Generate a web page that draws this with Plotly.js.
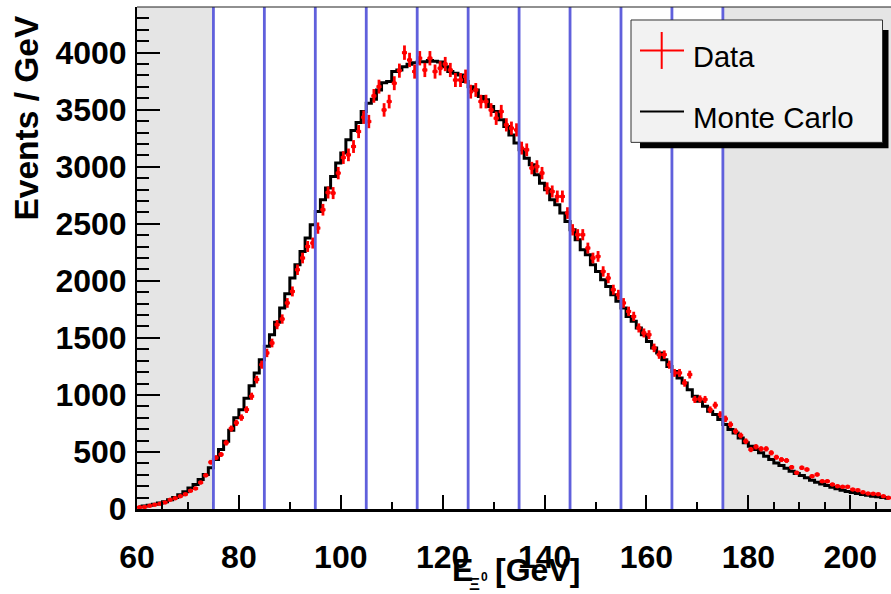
<!DOCTYPE html>
<html>
<head>
<meta charset="utf-8">
<script src="https://cdn.plot.ly/plotly-3.0.1.min.js"></script>
<style>
  html, body { margin: 0; padding: 0; background: #ffffff; }
  #chart { width: 891px; height: 594px; }
</style>
</head>
<body>
<div id="chart"></div>
<script>
// Bin low edges (1 GeV bins from 60 to 207)
const binLow = [60,61,62,63,64,65,66,67,68,69,70,71,72,73,74,75,76,77,78,79,
  80,81,82,83,84,85,86,87,88,89,90,91,92,93,94,95,96,97,98,99,
  100,101,102,103,104,105,106,107,108,109,110,111,112,113,114,115,116,117,118,119,
  120,121,122,123,124,125,126,127,128,129,130,131,132,133,134,135,136,137,138,139,
  140,141,142,143,144,145,146,147,148,149,150,151,152,153,154,155,156,157,158,159,
  160,161,162,163,164,165,166,167,168,169,170,171,172,173,174,175,176,177,178,179,
  180,181,182,183,184,185,186,187,188,189,190,191,192,193,194,195,196,197,198,199,
  200,201,202,203,204,205,206,207];

// Monte Carlo histogram (events / GeV)
const mcValues = [20,26,33,42,52,64,80,100,124,152,183,215,258,302,361,433,521,594,690,800,
  871,970,1081,1192,1309,1426,1528,1636,1762,1887,2024,2141,2257,2375,2491,2608,2710,2813,2914,3032,
  3120,3236,3317,3387,3483,3557,3592,3673,3737,3746,3834,3848,3877,3898,3912,3921,3921,3930,3925,3919,
  3877,3834,3820,3805,3746,3702,3673,3615,3586,3527,3483,3411,3352,3279,3207,3148,3075,3017,2929,2856,
  2798,2710,2666,2594,2520,2447,2360,2272,2229,2141,2082,2010,1951,1878,1820,1762,1688,1645,1587,1528,
  1469,1412,1368,1309,1250,1206,1149,1105,1046,988,944,900,857,828,784,740,696,667,623,580,
  550,521,492,463,433,404,381,357,331,311,293,273,252,235,220,206,191,177,165,153,
  144,136,127,121,112,107,101,95];

// Data (events / GeV)
const dataValues = [15,18,28,38,45,58,80,95,112,130,160,180,232,295,410,450,478,580,705,755,
  801,871,988,1134,1265,1368,1455,1616,1665,1806,1907,2097,2200,2301,2331,2462,2623,2774,2769,2944,
  3080,3104,3177,3308,3434,3396,3621,3702,3498,3571,3732,3842,4000,3936,3834,3951,3848,3951,3834,3863,
  3900,3848,3760,3760,3790,3658,3673,3571,3571,3498,3425,3483,3367,3338,3323,3163,3148,2988,3002,2944,
  2810,2783,2739,2739,2594,2447,2404,2404,2287,2200,2214,2082,2024,1922,1878,1806,1732,1688,1587,1543,
  1528,1412,1353,1353,1265,1193,1193,1105,1178,960,965,960,870,910,828,790,740,681,644,594,
  521,545,527,527,492,454,433,425,366,317,361,346,287,302,243,243,215,200,194,194,
  171,165,147,136,133,130,112,98];

// Signal-window boundaries and shaded side bands
const dividers = [75,85,95,105,115,125,135,145,155,165,175];
const shadedRanges = [[60,75],[175,208]];

const xRange = [60, 208];
const yRange = [0, 4400];

const binCenters = binLow.map(v => v + 0.5);

// layout geometry helpers (pixels -> paper)
const L = 137, T = 7, W = 754, H = 502.5, B = T + H;
const px = x => (x - L) / W;
const py = y => (B - y) / H;

const FONT = 'Liberation Sans, Arial, Helvetica, sans-serif';

const traces = [
  {
    x: binCenters, y: mcValues, type: 'scatter', mode: 'lines',
    line: {color: '#000000', width: 3, shape: 'hvh'},
    name: 'Monte Carlo', hoverinfo: 'skip'
  },
  {
    x: binCenters, y: dataValues, type: 'scatter', mode: 'markers',
    marker: {color: '#ff0000', size: 4.5},
    error_y: {type: 'sqrt', color: '#ff0000', thickness: 2.8, width: 0},
    error_x: {type: 'constant', value: 0.5, color: '#ff0000', thickness: 2.8, width: 0},
    name: 'Data', hoverinfo: 'skip'
  }
];

const shapes = [];
shadedRanges.forEach(r => shapes.push({
  type: 'rect', xref: 'x', yref: 'paper', x0: r[0], x1: r[1], y0: 0, y1: 1,
  fillcolor: '#e5e5e5', line: {width: 0}, layer: 'below'
}));
dividers.forEach(d => shapes.push({
  type: 'line', xref: 'x', yref: 'paper', x0: d, x1: d, y0: 0, y1: 1,
  line: {color: '#6060dc', width: 2.8}, layer: 'above'
}));
// top frame line
shapes.push({type: 'line', xref: 'paper', yref: 'paper', x0: 0, x1: 1, y0: 1, y1: 1,
  line: {color: '#222222', width: 1.2}, layer: 'above'});
// legend shadow + box
shapes.push({type: 'rect', xref: 'paper', yref: 'paper',
  x0: px(640), x1: px(888.5), y0: py(148.5), y1: py(30),
  fillcolor: '#000000', line: {width: 0}, layer: 'above'});
shapes.push({type: 'rect', xref: 'paper', yref: 'paper',
  x0: px(631), x1: px(882.5), y0: py(142.5), y1: py(20),
  fillcolor: '#f2f2f2', line: {color: '#333333', width: 1}, layer: 'above'});
// legend symbols
shapes.push({type: 'line', xref: 'paper', yref: 'paper', x0: px(640), x1: px(684), y0: py(50.5), y1: py(50.5),
  line: {color: '#ff0000', width: 2}, layer: 'above'});
shapes.push({type: 'line', xref: 'paper', yref: 'paper', x0: px(661.7), x1: px(661.7), y0: py(69), y1: py(32),
  line: {color: '#ff0000', width: 2}, layer: 'above'});
shapes.push({type: 'line', xref: 'paper', yref: 'paper', x0: px(640), x1: px(684), y0: py(111.5), y1: py(111.5),
  line: {color: '#000000', width: 2}, layer: 'above'});

const annotations = [
  {text: 'Data', xref: 'paper', yref: 'paper', x: px(691), y: py(57), xanchor: 'left', yanchor: 'middle',
   showarrow: false, font: {family: FONT, size: 29, color: '#000000'}},
  {text: 'Monte Carlo', xref: 'paper', yref: 'paper', x: px(691), y: py(118), xanchor: 'left', yanchor: 'middle',
   showarrow: false, font: {family: FONT, size: 29.5, color: '#000000'}},
  // y-axis title
  {text: 'Events / GeV', xref: 'paper', yref: 'paper', x: px(26), y: py(14), xanchor: 'center', yanchor: 'top',
   textangle: -90, showarrow: false, font: {family: FONT, size: 33.5, color: '#000000', weight: 'bold'}},
  // x-axis title pieces: E_{Xi^0} [GeV]
  {text: 'E', xref: 'paper', yref: 'paper', x: px(450), y: py(571), xanchor: 'left', yanchor: 'middle',
   showarrow: false, font: {family: FONT, size: 32, color: '#000000', weight: 'bold'}},
  {text: 'Ξ', xref: 'paper', yref: 'paper', x: px(474), y: py(585), xanchor: 'center', yanchor: 'middle',
   showarrow: false, font: {family: FONT, size: 17, color: '#000000', weight: 'bold'}},
  {text: '0', xref: 'paper', yref: 'paper', x: px(484), y: py(578), xanchor: 'center', yanchor: 'middle',
   showarrow: false, font: {family: FONT, size: 12, color: '#000000', weight: 'bold'}},
  {text: '[GeV]', xref: 'paper', yref: 'paper', x: px(493), y: py(571), xanchor: 'left', yanchor: 'middle',
   showarrow: false, font: {family: FONT, size: 32, color: '#000000', weight: 'bold'}}
];

const layout = {
  width: 891, height: 594,
  margin: {l: L, r: 0, t: T, b: 594 - B, pad: 0},
  paper_bgcolor: '#ffffff', plot_bgcolor: '#ffffff',
  showlegend: false,
  xaxis: {
    range: xRange, autorange: false, tickmode: 'linear', tick0: 60, dtick: 20,
    ticks: 'inside', ticklen: 14, tickwidth: 2, tickcolor: '#000000',
    minor: {dtick: 5, tick0: 60, ticks: 'inside', ticklen: 7, tickwidth: 2, tickcolor: '#000000', showgrid: false},
    showgrid: false, zeroline: false, showline: true, linecolor: '#000000', linewidth: 2.5,
    tickfont: {family: FONT, size: 32, color: '#000000', weight: 'bold'},
    ticklabelstandoff: 18
  },
  yaxis: {
    range: yRange, autorange: false, tickmode: 'linear', tick0: 0, dtick: 500,
    ticks: 'inside', ticklen: 23, tickwidth: 2, tickcolor: '#000000',
    minor: {dtick: 100, tick0: 0, ticks: 'inside', ticklen: 12, tickwidth: 2, tickcolor: '#000000', showgrid: false},
    showgrid: false, zeroline: false, showline: true, linecolor: '#000000', linewidth: 2,
    tickfont: {family: FONT, size: 32, color: '#000000', weight: 'bold'},
    ticklabelstandoff: 2
  },
  shapes: shapes,
  annotations: annotations
};

Plotly.newPlot('chart', traces, layout, {staticPlot: true, displayModeBar: false});
</script>
</body>
</html>
